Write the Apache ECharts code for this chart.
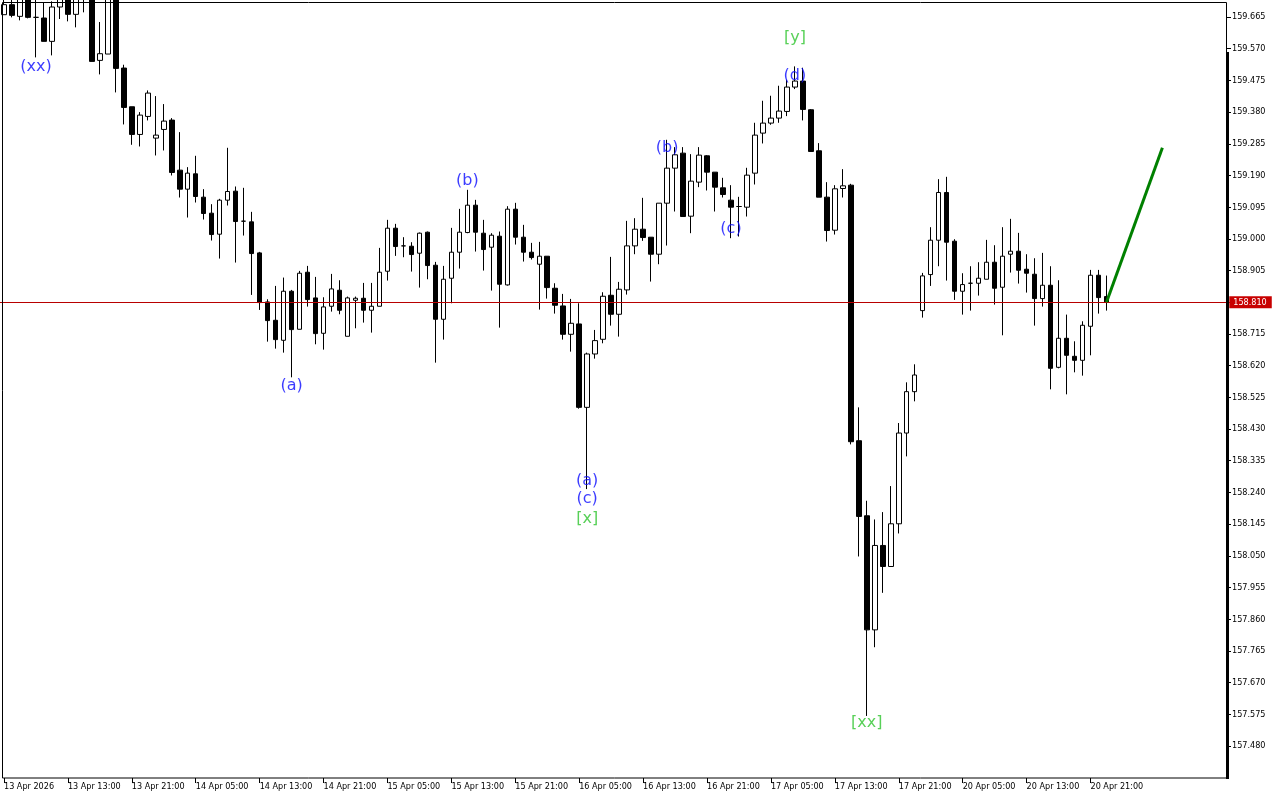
<!DOCTYPE html>
<html><head><meta charset="utf-8">
<script src="https://cdn.jsdelivr.net/npm/echarts@6/dist/echarts.min.js"></script>
<style>html,body{margin:0;padding:0;background:#fff}#chart{width:1280px;height:800px}</style>
</head><body><div id="chart"></div>
<script>
// Hourly candles, index 0 = 13 Apr 05:00
const opens = [159.672,159.702,159.667,159.730,159.664,159.662,159.592,159.695,159.730,159.673,
159.750,159.800,159.535,159.554,159.780,159.512,159.396,159.313,159.367,159.302,
159.328,159.356,159.206,159.149,159.195,159.125,159.077,159.014,159.116,159.143,
159.053,159.051,158.958,158.811,158.756,158.696,158.843,158.729,158.900,158.823,
158.717,158.798,158.846,158.708,158.816,158.822,158.786,158.798,158.903,159.032,
158.979,158.978,158.957,159.020,158.921,158.759,158.882,158.960,159.019,159.101,
159.017,158.975,159.008,158.862,159.089,159.005,158.960,158.924,158.948,158.852,
158.799,158.714,158.745,158.495,158.655,158.699,158.831,158.774,158.847,158.979,
159.029,159.005,158.954,159.107,159.212,159.257,159.068,159.170,159.249,159.200,
159.153,159.116,159.097,159.095,159.197,159.317,159.347,159.362,159.382,159.455,
159.473,159.387,159.264,159.125,159.026,159.151,159.161,158.395,158.170,157.828,
158.081,158.018,158.146,158.418,158.542,158.785,158.893,158.996,159.139,158.993,
158.843,158.867,158.867,158.879,158.930,158.855,158.954,158.963,158.909,158.894,
158.821,158.861,158.615,158.702,158.648,158.636,158.738,158.891,158.827];
const closes = [159.702,159.670,159.725,159.664,159.664,159.592,159.695,159.725,159.673,159.735,
159.780,159.532,159.555,159.780,159.511,159.394,159.313,159.371,159.437,159.311,
159.353,159.199,159.149,159.197,159.127,159.076,159.013,159.116,159.142,159.052,
159.053,158.956,158.809,158.755,158.698,158.843,158.728,158.897,158.818,158.716,
158.796,158.850,158.786,158.823,158.822,158.786,158.798,158.900,159.032,158.977,
158.979,158.953,159.017,158.920,158.759,158.879,158.960,159.020,159.101,159.020,
158.968,159.011,158.864,159.089,159.005,158.960,158.944,158.948,158.854,158.801,
158.714,158.747,158.495,158.655,158.695,158.828,158.774,158.849,158.979,159.029,
159.004,158.954,159.107,159.212,159.252,159.067,159.173,159.251,159.200,159.155,
159.133,159.095,159.097,159.191,159.311,159.347,159.362,159.383,159.455,159.473,
159.388,159.262,159.125,159.025,159.150,159.159,158.392,158.168,157.828,158.081,
158.018,158.146,158.418,158.542,158.592,158.889,158.996,159.139,158.990,158.843,
158.863,158.867,158.882,158.930,158.852,158.948,158.963,158.906,158.897,158.821,
158.861,158.612,158.702,158.651,158.636,158.741,158.891,158.824,158.810];
const lows = [159.672,159.664,159.655,159.661,159.544,159.592,159.550,159.659,159.652,159.634,
159.679,159.532,159.493,159.554,159.439,159.343,159.282,159.277,159.355,159.250,
159.265,159.190,159.124,159.064,159.109,159.058,158.995,158.941,159.100,158.929,
159.010,158.832,158.787,158.692,158.671,158.659,158.585,158.729,158.797,158.684,
158.668,158.782,158.774,158.708,158.732,158.749,158.719,158.798,158.875,158.949,
158.945,158.902,158.854,158.879,158.629,158.698,158.807,158.911,159.017,158.962,
158.905,158.845,158.734,158.860,158.983,158.932,158.938,158.788,158.821,158.776,
158.698,158.662,158.491,158.250,158.641,158.687,158.740,158.707,158.833,158.954,
158.994,158.872,158.924,158.980,159.082,159.067,159.017,159.155,159.145,159.082,
159.124,159.002,159.007,159.067,159.163,159.286,159.342,159.348,159.368,159.449,
159.355,159.262,159.125,158.992,159.013,159.124,158.384,158.048,157.570,157.776,
157.939,158.018,158.117,158.348,158.513,158.764,158.859,158.918,158.875,158.817,
158.773,158.785,158.830,158.879,158.803,158.711,158.899,158.866,158.839,158.740,
158.797,158.549,158.612,158.534,158.600,158.590,158.651,158.776,158.785];
const highs = [159.720,159.730,159.735,159.750,159.750,159.709,159.712,159.740,159.750,159.760,
159.800,159.810,159.650,159.800,159.790,159.522,159.396,159.380,159.445,159.428,
159.404,159.362,159.320,159.215,159.249,159.149,159.104,159.120,159.273,159.157,
159.153,159.081,158.961,158.819,158.859,158.884,158.847,158.904,158.919,158.886,
158.825,158.895,158.876,158.827,158.827,158.868,158.868,158.973,159.057,159.045,
159.005,158.990,159.019,159.022,158.931,158.919,159.033,159.090,159.147,159.117,
159.057,159.017,159.022,159.098,159.108,159.042,158.988,158.991,158.948,158.867,
158.835,158.820,158.807,158.659,158.727,158.840,158.946,158.871,159.054,159.062,
159.123,159.005,159.107,159.297,159.275,159.275,159.254,159.275,159.251,159.200,
159.183,159.161,159.126,159.213,159.348,159.414,159.429,159.459,159.477,159.517,
159.513,159.389,159.287,159.170,159.161,159.209,159.165,158.495,158.215,158.159,
158.181,158.259,158.448,158.570,158.624,158.898,159.035,159.179,159.186,158.999,
158.897,158.918,158.930,158.997,158.981,159.035,159.060,159.018,158.954,158.942,
158.958,158.918,158.876,158.773,158.693,158.753,158.907,158.907,158.890];

const categoryCount = 154;            // hourly slots shown incl. empty space on the right
const timeTickIndex = [0,8,16,24,32,40,48,56,64,72,80,88,96,104,112,120,128,136];
const timeTickLabels = ['13 Apr 2026','13 Apr 13:00','13 Apr 21:00','14 Apr 05:00','14 Apr 13:00','14 Apr 21:00',
  '15 Apr 05:00','15 Apr 13:00','15 Apr 21:00','16 Apr 05:00','16 Apr 13:00','16 Apr 21:00',
  '17 Apr 05:00','17 Apr 13:00','17 Apr 21:00','20 Apr 05:00','20 Apr 13:00','20 Apr 21:00'];
const priceTicks = [159.665,159.570,159.475,159.380,159.285,159.190,159.095,159.000,158.905,158.810,
  158.715,158.620,158.525,158.430,158.335,158.240,158.145,158.050,157.955,157.860,157.765,157.670,157.575,157.480];
const priceMin = 157.384, priceMax = 159.710;
const lastPrice = 158.810;
const projectionIdx = [138, 145];
const projectionPrice = [158.810, 159.273];
const waveText  = ['(xx)','(a)','(b)','(a)','(c)','[x]','(b)','(c)','[y]','(d)','[xx]'];
const waveIdx   = [4, 36, 58, 73, 73, 73, 83, 91, 99, 99, 108];
const wavePrice = [159.516,158.559,159.174,158.274,158.220,158.160,159.273,159.030,159.603,159.489,157.548];
const waveDegree= ['minor','minor','minor','minor','minor','major','minor','minor','major','minor','major'];

const AXFONT = 'DejaVu Sans Condensed';
const LBFONT = 'DejaVu Sans';
const cats = Array.from({length: categoryCount}, (_, i) => String(i));
const tickMap = {};
timeTickIndex.forEach((i, j) => tickMap[i] = timeTickLabels[j]);
const candleData = opens.map((o, i) => [o, closes[i], lows[i], highs[i]]);
const waveData = waveText.map((t, i) => ({
  value: [waveIdx[i], wavePrice[i]],
  label: { formatter: t, color: waveDegree[i] === 'major' ? '#2ec42e' : '#0a0aff' }
}));

const chart = echarts.init(document.getElementById('chart'), null, {renderer: 'canvas'});
chart.setOption({
  animation: false,
  backgroundColor: '#ffffff',
  grid: { left: -1.7, top: 2, width: categoryCount * 8, height: 776, containLabel: false },
  xAxis: {
    type: 'category', data: cats, boundaryGap: true,
    axisLine: { show: false },
    splitLine: { show: false },
    axisTick: { show: true, alignWithLabel: true, interval: (i) => tickMap[i] !== undefined, length: 5, lineStyle: { color: '#000', width: 1 } },
    axisLabel: { interval: (i) => tickMap[i] !== undefined, formatter: (v, i) => tickMap[i] || '', align: 'left',
      padding: [0, 0, 0, 0], margin: 4, fontFamily: AXFONT, fontSize: 9, color: '#000' }
  },
  yAxis: {
    type: 'value', position: 'right', offset: -3.3, min: priceMin, max: priceMax, scale: true,
    axisLine: { show: false },
    splitLine: { show: false },
    axisTick: { show: true, customValues: priceTicks, length: 4, lineStyle: { color: '#000' } },
    axisLabel: { customValues: priceTicks, formatter: (v) => v.toFixed(3), margin: 5, fontFamily: AXFONT, fontSize: 9, color: '#000' }
  },
  series: [
    {
      type: 'candlestick', data: candleData, barWidth: 5, clip: true,
      itemStyle: { color: '#ffffff', color0: '#000000', borderColor: '#000000', borderColor0: '#000000', borderColorDoji: '#000000', borderWidth: 1 },
      markLine: {
        symbol: ['none', 'none'], silent: true, animation: false,
        lineStyle: { color: '#b80000', width: 1, type: 'solid' },
        label: { show: true, position: 'end', distance: -1, formatter: lastPrice.toFixed(3),
          backgroundColor: '#c80000', color: '#ffffff', fontFamily: AXFONT, fontSize: 9, padding: [2, 5, 1, 4] },
        data: [{ yAxis: lastPrice }]
      }
    },
    {
      type: 'line', data: projectionIdx.map((x, i) => [x, projectionPrice[i]]),
      symbol: 'none', lineStyle: { color: '#008000', width: 3 }, z: 5
    },
    {
      type: 'scatter', data: waveData, symbolSize: 0, z: 6,
      label: { show: true, position: 'inside', fontFamily: LBFONT, fontSize: 16 }
    }
  ],
  graphic: [
    { type: 'rect', z: 100, silent: true, shape: { x: 2.5, y: 2.5, width: 1224, height: 775.5 },
      style: { fill: 'none', stroke: '#000', lineWidth: 1 } },
    { type: 'rect', z: 100, silent: true, shape: { x: 1226, y: 52, width: 3, height: 727 },
      style: { fill: '#000' } }
  ]
});
</script>
</body></html>
